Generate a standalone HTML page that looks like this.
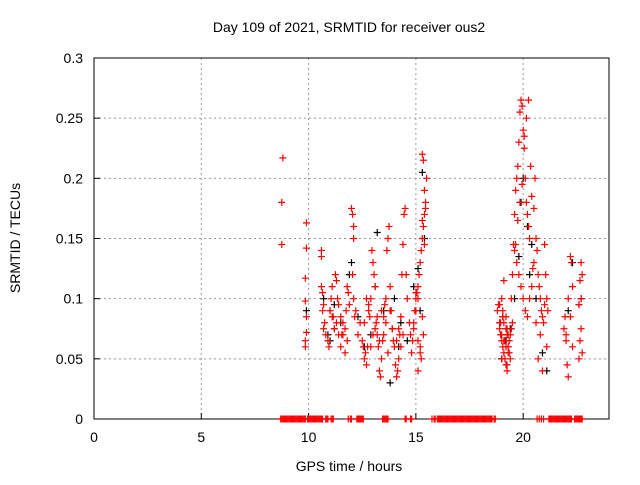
<!DOCTYPE html>
<html><head><meta charset="utf-8"><style>
body{margin:0;background:#fff}
svg text{font-family:"Liberation Sans",sans-serif;font-size:14px;fill:#000}
</style></head><body>
<svg id="chart" width="640" height="480" xmlns="http://www.w3.org/2000/svg">
<rect width="640" height="480" fill="#fff"/>
<text x="349" y="32" text-anchor="middle">Day 109 of 2021, SRMTID for receiver ous2</text>
<g id="grid"></g>
<g id="axes"></g>
<g id="marks"></g>
<text x="349" y="471" text-anchor="middle">GPS time / hours</text>
<text transform="translate(20,238) rotate(-90)" text-anchor="middle">SRMTID / TECUs</text>
</svg>
<script>
const xTicks=[0,5,10,15,20];
const yTicks=[0,0.05,0.1,0.15,0.2,0.25,0.3];
const yTickLabels=["0","0.05","0.1","0.15","0.2","0.25","0.3"];
const redT=[8.8,8.75,8.75,9.9,9.9,9.85,9.85,9.9,9.9,9.85,9.85,10.6,10.6,10.6,10.65,10.7,10.65,10.75,10.7,10.8,10.9,10.95,11.0,11.05,11.1,11.15,11.2,11.25,11.3,11.35,11.4,11.5,11.55,11.6,11.7,11.75,11.8,11.85,11.9,12.0,12.05,12.1,12.1,12.05,12.1,12.15,12.2,12.3,12.4,12.5,12.55,12.6,12.65,12.7,12.75,12.8,12.85,12.9,12.95,13.0,13.05,13.1,13.15,13.2,13.25,13.3,13.35,13.4,13.45,13.5,13.55,13.6,13.65,13.7,13.75,13.8,13.85,13.9,13.95,14.0,14.05,14.1,14.15,14.2,14.25,14.3,14.35,14.4,14.45,14.5,14.55,14.6,14.7,14.75,14.8,14.85,14.9,14.95,15.0,15.05,15.1,15.15,15.2,15.25,15.3,15.35,15.4,15.45,15.5,15.3,15.35,15.4,15.45,15.3,15.4,15.3,15.35,15.2,15.25,15.1,18.8,18.85,18.9,18.95,19.0,19.05,19.1,19.15,19.2,19.25,19.3,19.35,19.4,19.45,19.5,19.0,19.1,19.2,19.3,19.4,18.9,19.05,19.25,19.45,19.5,19.55,19.6,19.65,19.7,19.75,19.8,19.85,19.9,19.95,20.0,20.05,20.1,20.15,20.2,20.25,20.3,19.6,19.7,19.8,19.9,20.0,20.1,20.2,20.3,20.4,20.45,20.5,19.65,19.75,19.85,19.95,20.05,20.15,20.25,20.35,20.4,20.5,20.55,20.6,20.65,20.7,20.75,20.8,20.85,20.9,20.95,21.0,21.05,21.1,21.15,20.6,20.8,21.0,20.7,20.9,21.1,21.9,21.95,22.0,22.05,22.1,22.2,22.25,22.3,22.1,22.2,22.3,22.0,22.6,22.65,22.7,22.75,22.6,22.7,22.75,22.65,22.7,22.6,
11.0,11.1,11.2,11.3,11.4,11.5,11.6,11.7,11.8,12.6,12.7,12.8,12.9,13.0,13.1,13.2,13.3,13.4,13.5,13.6,13.7,13.8,13.9,14.1,14.2,14.3,14.4,14.9,15.0,15.1,15.2,15.1,15.0,18.9,18.95,19.0,19.05,19.1,19.15,19.2,19.25,19.3,19.35,19.1,19.2,19.0,19.3,19.15,19.05,19.25];
const redV=[0.217,0.18,0.145,0.163,0.142,0.117,0.098,0.085,0.072,0.065,0.06,0.14,0.135,0.11,0.105,0.095,0.09,0.08,0.075,0.07,0.065,0.06,0.09,0.1,0.11,0.085,0.075,0.12,0.115,0.1,0.095,0.085,0.07,0.08,0.075,0.09,0.11,0.105,0.095,0.175,0.17,0.16,0.15,0.12,0.1,0.085,0.09,0.07,0.08,0.065,0.06,0.05,0.055,0.045,0.06,0.095,0.085,0.1,0.14,0.13,0.12,0.11,0.08,0.07,0.06,0.04,0.035,0.05,0.065,0.085,0.095,0.1,0.14,0.15,0.16,0.11,0.09,0.075,0.065,0.06,0.045,0.035,0.04,0.05,0.07,0.085,0.12,0.145,0.17,0.175,0.12,0.1,0.08,0.07,0.055,0.065,0.075,0.09,0.1,0.105,0.11,0.12,0.13,0.14,0.15,0.16,0.17,0.18,0.2,0.22,0.215,0.19,0.175,0.165,0.145,0.085,0.07,0.06,0.05,0.04,0.09,0.095,0.075,0.07,0.065,0.06,0.055,0.05,0.045,0.04,0.06,0.065,0.07,0.075,0.08,0.07,0.065,0.06,0.055,0.05,0.08,0.085,0.075,0.1,0.12,0.145,0.17,0.19,0.2,0.21,0.23,0.255,0.265,0.26,0.24,0.235,0.2,0.18,0.17,0.16,0.15,0.14,0.13,0.12,0.11,0.1,0.09,0.085,0.1,0.11,0.125,0.13,0.145,0.165,0.18,0.195,0.225,0.25,0.265,0.21,0.185,0.175,0.2,0.15,0.14,0.12,0.11,0.1,0.09,0.085,0.08,0.145,0.12,0.1,0.09,0.08,0.07,0.095,0.05,0.04,0.06,0.075,0.085,0.065,0.045,0.035,0.135,0.13,0.11,0.1,0.085,0.06,0.07,0.095,0.065,0.075,0.055,0.05,0.13,0.12,0.115,0.1,0.095,0.09,0.085,0.075,0.08,0.07,
0.06,0.07,0.055,0.065,0.08,0.1,0.09,0.06,0.07,0.075,0.085,0.065,0.09,0.07,0.08,0.055,0.09,0.075,0.065,0.075,0.06,0.07,0.08,0.09,0.065,0.055,0.1,0.105,0.095,0.08,0.1,0.085,0.115,0.065,0.075,0.07,0.06,0.055,0.08,0.085,0.05,0.07,0.065,0.09,0.045,0.07,0.055,0.06,0.075,0.08];
const blackT=[9.9,10.7,10.9,11.2,11.5,11.9,12.3,12.6,12.9,13.2,13.5,13.8,14.0,14.3,14.6,14.9,15.1,15.3,15.4,15.2,19.0,19.2,19.4,19.6,19.8,20.0,20.2,20.4,20.6,20.9,21.1,22.1,22.3,22.7,13.1,14.2,12.0,11.0,19.9,20.3];
const blackV=[0.09,0.1,0.07,0.095,0.08,0.12,0.085,0.06,0.07,0.155,0.09,0.03,0.1,0.08,0.065,0.11,0.125,0.205,0.15,0.09,0.05,0.065,0.075,0.1,0.135,0.2,0.16,0.145,0.1,0.055,0.04,0.09,0.13,0.1,0.11,0.06,0.13,0.065,0.18,0.12];
const zeroT=[8.7,8.75,8.8,8.85,8.9,8.95,9.0,9.05,9.1,9.15,9.2,9.25,9.3,9.35,9.4,9.45,9.5,9.55,9.6,9.65,9.7,9.75,9.8,9.85,9.95,10.0,10.05,10.1,10.15,10.2,10.25,10.3,10.35,10.4,10.45,10.5,10.55,10.6,10.65,10.8,10.85,10.9,11.05,11.1,11.15,11.85,11.95,12.0,12.25,12.3,12.35,12.4,12.45,12.5,12.55,13.45,13.5,13.55,13.6,13.65,13.7,14.5,14.55,14.75,14.8,15.75,15.85,15.9,16.0,16.05,16.1,16.15,16.2,16.25,16.3,16.35,16.4,16.45,16.5,16.55,16.6,16.65,16.7,16.75,16.8,16.85,16.9,16.95,17.0,17.05,17.1,17.15,17.2,17.25,17.3,17.35,17.4,17.45,17.5,17.55,17.6,17.65,17.7,17.75,17.8,17.85,17.9,17.95,18.0,18.05,18.1,18.15,18.2,18.25,18.3,18.35,18.4,18.45,18.5,18.55,18.65,18.7,20.65,20.75,20.85,20.95,21.2,21.25,21.3,21.35,21.4,21.45,21.5,21.55,21.6,21.65,21.7,21.75,21.8,21.85,21.9,21.95,22.0,22.05,22.1,22.15,22.2,22.25,22.4,22.45,22.5,22.55,22.6,22.65,22.7,22.75];
const NS="http://www.w3.org/2000/svg";
const L=94,R=609,T=58,B=419;
const xs=t=>L+(t/24)*(R-L);
const ys=v=>B-(v/0.3)*(B-T);
function mk(tag,a){const e=document.createElementNS(NS,tag);for(const k in a)e.setAttribute(k,a[k]);return e;}
const grid=document.getElementById('grid'),axes=document.getElementById('axes'),marks=document.getElementById('marks');
xTicks.forEach(t=>{
 if(t>0){const g=mk('line',{x1:xs(t),x2:xs(t),y1:T,y2:B,stroke:'#999','stroke-dasharray':'2,3'});
 
 grid.appendChild(g);}
 const tk=mk('line',{x1:xs(t),x2:xs(t),y1:B,y2:B-6,stroke:'#000'});
 
 axes.appendChild(tk);
 const lb=mk('text',{x:xs(t),y:B+23,'text-anchor':'middle'});lb.textContent=t;
 
 axes.appendChild(lb);
});
yTicks.forEach((v,i)=>{
 if(v>0&&v<0.3){const g=mk('line',{x1:L,x2:R,y1:ys(v),y2:ys(v),stroke:'#999','stroke-dasharray':'2,3'});
 
 grid.appendChild(g);}
 const tk=mk('line',{x1:L,x2:L+6,y1:ys(v),y2:ys(v),stroke:'#000'});
 
 axes.appendChild(tk);
 const lb=mk('text',{x:L-11,y:ys(v)+5,'text-anchor':'end'});lb.textContent=yTickLabels[i];
 
 axes.appendChild(lb);
});
const fr=mk('rect',{x:L,y:T,width:R-L,height:B-T,fill:'none',stroke:'#000'});

axes.appendChild(fr);
function plus(t,v,c,name){const x=xs(t),y=ys(v);
 const p=mk('path',{d:`M${x-3.5},${y}H${x+3.5}M${x},${y-3.5}V${y+3.5}`,stroke:c,'stroke-width':1.2,fill:'none'});
 
 marks.appendChild(p);}
blackT.forEach((t,i)=>plus(t,blackV[i],'#000','black-point'));
redT.forEach((t,i)=>plus(t,redV[i],'#f00','red-point'));
zeroT.forEach(t=>plus(t,0,'#f00','zero-point'));
</script>
</body></html>
